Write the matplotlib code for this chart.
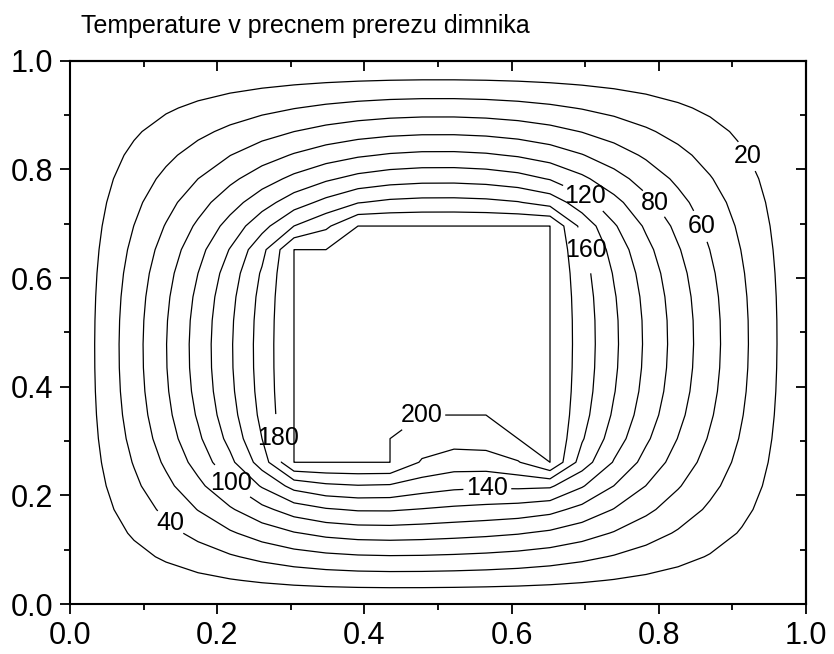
import numpy as np
import matplotlib
matplotlib.use("Agg")
import matplotlib.pyplot as plt
from matplotlib.path import Path
from matplotlib.ticker import MultipleLocator, FormatStrFormatter

plt.rcParams["font.family"] = ["Liberation Sans", "DejaVu Sans"]

# mreza tock (korak 1/23), stena dimnika na 0, notranjost na 200
n_nodes = 24
t_wall = 0.0
t_hot = 200.0

# rob vrocega dela (odcitano s slike)
hot_x = [0.304, 0.435, 0.435, 0.478, 0.565, 0.652, 0.652, 0.391, 0.348, 0.304]
hot_y = [0.261, 0.261, 0.304, 0.348, 0.348, 0.261, 0.696, 0.696, 0.652, 0.652]

levels = [20, 40, 60, 80, 100, 120, 140, 160, 180, 200]

# kje so napisi izolinij
label_x = [0.921, 0.700, 0.795, 0.858, 0.702, 0.478, 0.285, 0.220, 0.567, 0.139]
label_y = [0.825, 0.753, 0.739, 0.696, 0.652, 0.346, 0.306, 0.225, 0.212, 0.155]

# --- Laplaceova enacba na mrezi ---
xs = np.linspace(0, 1, n_nodes)
X, Y = np.meshgrid(xs, xs)
pts = np.column_stack([X.ravel(), Y.ravel()])
poly = Path(np.column_stack([hot_x, hot_y]))
hot = poly.contains_points(pts, radius=0.01) | poly.contains_points(pts, radius=-0.01)
hot = hot.reshape(X.shape)
edge = np.zeros_like(hot)
edge[0, :] = edge[-1, :] = edge[:, 0] = edge[:, -1] = True

T = np.where(hot, t_hot, t_wall).astype(float)
fixed = hot | edge
for _ in range(5000):
    avg = 0.25 * (np.roll(T, 1, 0) + np.roll(T, -1, 0) + np.roll(T, 1, 1) + np.roll(T, -1, 1))
    T = np.where(fixed, T, avg)

fig = plt.figure(figsize=(8.34, 6.54), dpi=100)
ax = fig.add_axes([70/834, 1-604/654, 736/834, 543.3/654])

draw_levels = [lv if lv < t_hot else t_hot - 0.01 for lv in levels]
cs = ax.contour(X, Y, T, levels=draw_levels, colors="black", linewidths=0.9)
texts = ax.clabel(cs, manual=list(zip(label_x, label_y)), inline=True,
                  fontsize=18, fmt=lambda v: f"{v:.0f}", inline_spacing=3)
for t in texts:
    t.set_rotation(0)

ax.set_xlim(0, 1)
ax.set_ylim(0, 1)
ax.xaxis.set_major_locator(MultipleLocator(0.2))
ax.yaxis.set_major_locator(MultipleLocator(0.2))
ax.xaxis.set_minor_locator(MultipleLocator(0.1))
ax.yaxis.set_minor_locator(MultipleLocator(0.1))
ax.xaxis.set_major_formatter(FormatStrFormatter("%.1f"))
ax.yaxis.set_major_formatter(FormatStrFormatter("%.1f"))
ax.tick_params(which="both", direction="out", top=False, right=False,
               labelsize=22, width=1.3)
ax.tick_params(which="major", length=7, pad=5)
ax.tick_params(which="minor", length=4)
for sp in ax.spines.values():
    sp.set_linewidth(1.5)

# zgoraj in desno crtice navznoter
sx = ax.secondary_xaxis("top")
sy = ax.secondary_yaxis("right")
for sec, axis in ((sx, sx.xaxis), (sy, sy.yaxis)):
    axis.set_major_locator(MultipleLocator(0.2))
    axis.set_minor_locator(MultipleLocator(0.1))
    sec.tick_params(which="both", direction="in", width=1.3,
                    labeltop=False, labelright=False, labelbottom=False, labelleft=False)
    sec.tick_params(which="major", length=7)
    sec.tick_params(which="minor", length=4)
    for sp in sec.spines.values():
        sp.set_linewidth(1.5)

fig.text(81/834, 1-33/654, "Temperature v precnem prerezu dimnika",
         fontsize=18, ha="left", va="baseline")

fig.savefig("out.png", dpi=100)
